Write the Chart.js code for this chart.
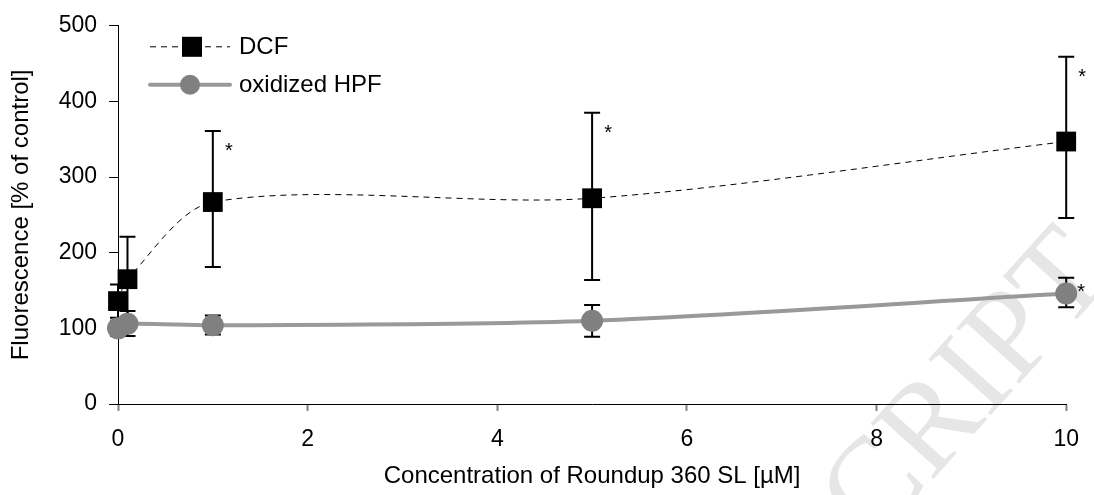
<!DOCTYPE html>
<html><head><meta charset="utf-8">
<script src="https://cdn.jsdelivr.net/npm/chart.js@4.4.0/dist/chart.umd.min.js"></script>
<style>html,body{margin:0;padding:0;background:#fff;} #wrap{width:1094px;height:495px;position:relative;}</style>
</head><body><div id="wrap"><canvas id="c"></canvas></div>
<script>
// ---- data ----
const concentrations = [0, 0.1, 1, 5, 10];
const dcfMean = [136, 165, 267, 272, 347];
const dcfErrHigh = [158, 221, 361, 385, 459];
const dcfErrLow = [114, 109, 181, 164, 246];
const dcfSignificant = [false, false, true, true, true];
const hpfMean = [100, 106, 104, 110, 146];
const hpfErrHigh = [110, 123, 117, 131, 167];
const hpfErrLow = [90, 90, 92, 89, 128];
const hpfSignificant = [false, false, false, false, true];
const xTicks = [0, 2, 4, 6, 8, 10];
const yTicks = [0, 100, 200, 300, 400, 500];
const seriesNames = ['DCF', 'oxidized HPF'];
const xTitle = 'Concentration of Roundup 360 SL [µM]';
const yTitle = 'Fluorescence [% of control]';
const watermarkText = 'ACCEPTED MANUSCRIPT';

const FONT = '"Liberation Sans", Arial, sans-serif';
const HPF_LINE = '#999999';
const HPF_MARK = '#808080';

const toPoints = (ys) => concentrations.map((c, i) => ({x: c, y: ys[i]}));

const watermarkPlugin = {
  id: 'watermark',
  beforeDraw(chart) {
    const ctx = chart.ctx;
    ctx.save();
    ctx.fillStyle = '#ffffff';
    ctx.fillRect(0, 0, chart.width, chart.height);
    ctx.translate(1116, 276);
    ctx.rotate(-48 * Math.PI / 180);
    ctx.font = '128px "Liberation Serif", "Times New Roman", serif';
    ctx.fillStyle = '#e6e6e6';
    ctx.textAlign = 'right';
    ctx.textBaseline = 'alphabetic';
    ctx.fillText(watermarkText, 0, 0);
    ctx.restore();
  }
};

const errorBarPlugin = {
  id: 'errorBars',
  beforeDatasetsDraw(chart) {
    const {ctx, scales: {x, y}} = chart;
    ctx.save();
    ctx.strokeStyle = '#000';
    ctx.lineWidth = 2;
    [[dcfErrLow, dcfErrHigh], [hpfErrLow, hpfErrHigh]].forEach(([lo, hi]) => {
      concentrations.forEach((c, i) => {
        const px = x.getPixelForValue(c);
        const pl = y.getPixelForValue(lo[i]);
        const ph = y.getPixelForValue(hi[i]);
        ctx.beginPath();
        ctx.moveTo(px, pl); ctx.lineTo(px, ph);
        ctx.moveTo(px - 8, pl); ctx.lineTo(px + 8, pl);
        ctx.moveTo(px - 8, ph); ctx.lineTo(px + 8, ph);
        ctx.stroke();
      });
    });
    ctx.restore();
  }
};

const starPlugin = {
  id: 'stars',
  afterDatasetsDraw(chart) {
    const {ctx, scales: {x, y}} = chart;
    ctx.save();
    ctx.fillStyle = '#000';
    ctx.font = '20px ' + FONT;
    ctx.textAlign = 'center';
    ctx.textBaseline = 'alphabetic';
    concentrations.forEach((c, i) => {
      const px = x.getPixelForValue(c);
      if (dcfSignificant[i]) {
        const ph = y.getPixelForValue(dcfErrHigh[i]);
        ctx.fillText('*', px + 16, ph + 15 + 11);
      }
      if (hpfSignificant[i]) {
        const pm = y.getPixelForValue(hpfMean[i]);
        ctx.fillText('*', px + 15, pm - 7 + 11);
      }
    });
    ctx.restore();
  }
};

const legendPlugin = {
  id: 'customLegend',
  afterDraw(chart) {
    const ctx = chart.ctx;
    const a = chart.chartArea;
    const x0 = a.left + 32, x1 = a.left + 112, mx = a.left + 74;
    const y1 = a.top + 21, y2 = a.top + 59;
    ctx.save();
    // DCF
    ctx.strokeStyle = '#000'; ctx.lineWidth = 1; ctx.setLineDash([6, 5]);
    ctx.beginPath(); ctx.moveTo(x0, y1); ctx.lineTo(x1, y1); ctx.stroke();
    ctx.setLineDash([]);
    ctx.fillStyle = '#000';
    ctx.fillRect(mx - 10, y1 - 10, 20, 20);
    // HPF
    ctx.strokeStyle = HPF_LINE; ctx.lineWidth = 4; ctx.lineCap = 'round';
    ctx.beginPath(); ctx.moveTo(x0, y2); ctx.lineTo(x1, y2); ctx.stroke();
    ctx.fillStyle = HPF_MARK;
    ctx.beginPath(); ctx.arc(mx - 2, y2, 10, 0, Math.PI * 2); ctx.fill();
    // text
    ctx.fillStyle = '#000';
    ctx.font = '24px ' + FONT;
    ctx.textAlign = 'left'; ctx.textBaseline = 'middle';
    ctx.fillText(seriesNames[0], x1 + 9, y1 + 1);
    ctx.fillText(seriesNames[1], x1 + 9, y2 + 1);
    ctx.restore();
  }
};

new Chart(document.getElementById('c'), {
  type: 'line',
  data: {
    datasets: [
      {
        label: seriesNames[1],
        data: toPoints(hpfMean),
        borderColor: HPF_LINE,
        borderWidth: 4,
        tension: 0.3,
        pointStyle: 'circle',
        pointRadius: 11,
        pointBackgroundColor: HPF_MARK,
        pointBorderWidth: 0,
        clip: false,
        order: 0
      },
      {
        label: seriesNames[0],
        data: toPoints(dcfMean),
        borderColor: '#000',
        borderWidth: 1,
        borderDash: [6, 5],
        tension: 0.3,
        pointStyle: 'rect',
        pointRadius: 14,
        pointBackgroundColor: '#000',
        pointBorderWidth: 0,
        clip: false,
        order: 1
      }
    ]
  },
  options: {
    responsive: true,
    maintainAspectRatio: false,
    animation: false,
    devicePixelRatio: 1,
    layout: {padding: {top: 23, right: 22, left: 0, bottom: 0}},
    plugins: {legend: {display: false}, tooltip: {enabled: false}},
    scales: {
      x: {
        type: 'linear', min: 0, max: 10,
        afterBuildTicks: s => { s.ticks = xTicks.map(v => ({value: v})); },
        afterFit: s => { s.height = 91; },
        border: {display: true, color: '#000', width: 1},
        grid: {display: true, drawOnChartArea: false, drawTicks: true, tickLength: 7, tickColor: '#808080', tickWidth: 2},
        ticks: {color: '#000', font: {family: FONT, size: 23}, padding: 15, maxRotation: 0},
        title: {display: true, text: xTitle, color: '#000', font: {family: FONT, size: 24}, padding: {top: 0, bottom: 4}}
      },
      y: {
        type: 'linear', min: 0, max: 500,
        afterBuildTicks: s => { s.ticks = yTicks.map(v => ({value: v})); },
        afterFit: s => { s.width = 118; },
        border: {display: true, color: '#000', width: 1},
        grid: {display: true, drawOnChartArea: false, drawTicks: true, tickLength: 9, tickColor: '#000', tickWidth: 1},
        ticks: {color: '#000', font: {family: FONT, size: 23}, padding: 12},
        title: {display: true, text: yTitle, color: '#000', font: {family: FONT, size: 24}, padding: {top: 7, bottom: 0}}
      }
    }
  },
  plugins: [watermarkPlugin, errorBarPlugin, starPlugin, legendPlugin]
});
</script>
</body></html>
